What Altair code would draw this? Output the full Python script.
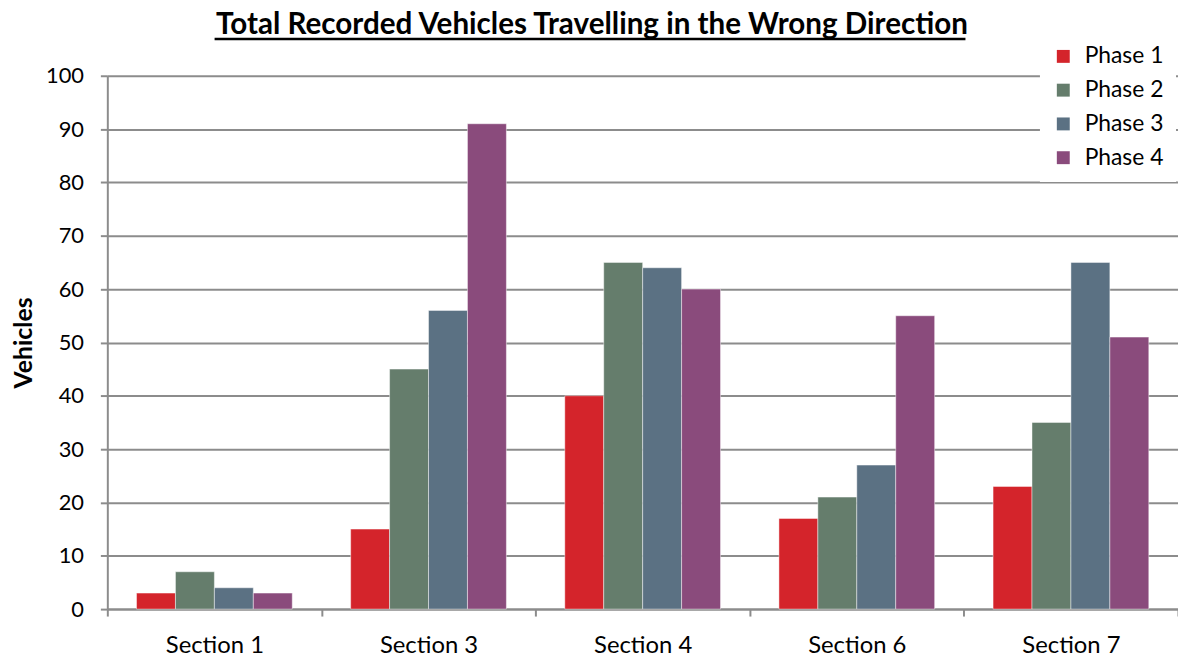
import altair as alt
import pandas as pd

sections = ["Section 1", "Section 3", "Section 4", "Section 6", "Section 7"]
phases = ["Phase 1", "Phase 2", "Phase 3", "Phase 4"]
phase1 = [3, 15, 40, 17, 23]
phase2 = [7, 45, 65, 21, 35]
phase3 = [4, 56, 64, 27, 65]
phase4 = [3, 91, 60, 55, 51]
colors = ["#D4242B", "#657D6C", "#5B7183", "#8A4B7C"]
title_text = "Total Recorded Vehicles Travelling in the Wrong Direction"

rows = []
for ph, vals in zip(phases, [phase1, phase2, phase3, phase4]):
    for s, v in zip(sections, vals):
        rows.append({"Section": s, "Phase": ph, "Vehicles": v})
df = pd.DataFrame(rows)

FONT = "Lato"
W, H = 1078, 537
GRID = "#8C8C8C"

bars = alt.Chart(df).mark_bar(stroke="white", strokeOpacity=0.45, strokeWidth=1).encode(
    x=alt.X("Section:N", sort=sections, title=None,
            scale=alt.Scale(paddingInner=0, paddingOuter=0),
            axis=alt.Axis(labelAngle=0, tickBand="extent", tickSize=7, tickColor=GRID,
                          tickWidth=2, domainColor=GRID, domainWidth=2,
                          labelFontSize=24, labelFont=FONT, labelColor="#000000",
                          labelPadding=18, grid=False)),
    xOffset=alt.XOffset("Phase:N", sort=phases,
                        scale=alt.Scale(paddingInner=0, paddingOuter=0.75)),
    y=alt.Y("Vehicles:Q", title="Vehicles",
            scale=alt.Scale(domain=[0, 100], nice=False),
            axis=alt.Axis(values=list(range(0, 101, 10)), tickSize=7, tickColor=GRID,
                          tickWidth=2, domainColor=GRID, domainWidth=2,
                          gridColor=GRID, gridWidth=2,
                          labelFontSize=22, labelFont=FONT, labelColor="#000000",
                          labelPadding=17, titleFont=FONT, titleFontSize=25,
                          titleFontWeight="bold", titleColor="#000000", titlePadding=9)),
    color=alt.Color("Phase:N", sort=phases,
                    scale=alt.Scale(domain=phases, range=colors),
                    legend=alt.Legend(title=None, orient="none", legendX=939, legendY=-43,
                                      fillColor="white", padding=12, symbolType="square",
                                      symbolSize=169, symbolStrokeWidth=0,
                                      labelFontSize=23, labelFont=FONT, labelColor="#000000",
                                      rowPadding=10, labelOffset=10)),
)

title = alt.Chart(pd.DataFrame({"t": [title_text]})).mark_text(
    font=FONT, fontSize=29.8, fontWeight="bold", color="black",
    align="center", baseline="alphabetic"
).encode(text="t:N", x=alt.value(488), y=alt.value(-42))

underline = alt.Chart(pd.DataFrame({"u": [0]})).mark_rule(color="black", strokeWidth=2.5).encode(
    x=alt.value(108), x2=alt.value(864), y=alt.value(-37)
)

chart = alt.layer(bars, title, underline).properties(
    width=W, height=H,
    autosize=alt.AutoSizeParams(type="none"),
    padding={"left": 100, "top": 66, "right": 0, "bottom": 46},
).configure_view(stroke=None)

chart.save("out.html", embed_options={"renderer": "svg", "actions": False})
